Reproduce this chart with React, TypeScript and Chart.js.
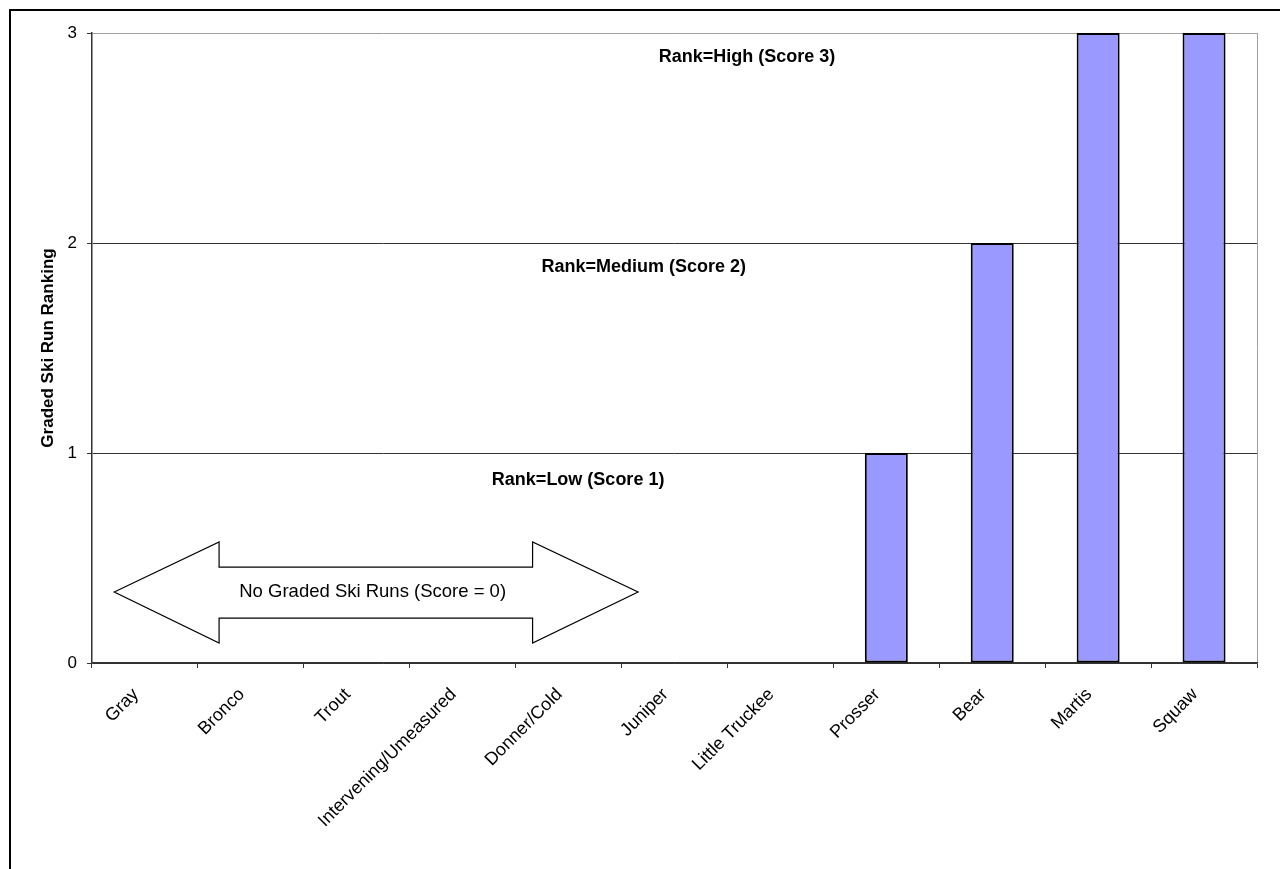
import React, { useEffect, useRef } from 'react';
import { Chart, registerables } from 'chart.js';

Chart.register(...registerables);

const categories = [
  'Gray', 'Bronco', 'Trout', 'Intervening/Umeasured', 'Donner/Cold', 'Juniper',
  'Little Truckee', 'Prosser', 'Bear', 'Martis', 'Squaw',
];
const scores = [0, 0, 0, 0, 0, 0, 0, 1, 2, 3, 3];
const yTicks = [0, 1, 2, 3];
const yAxisTitle = 'Graded Ski Run Ranking';
const rankLabels = ['Rank=Low (Score 1)', 'Rank=Medium (Score 2)', 'Rank=High (Score 3)'];
const noRunsLabel = 'No Graded Ski Runs (Score = 0)';

// annotation anchors, in axis units (category index, score)
const rankLabelAnchors = [
  { x: 4.09, y: 0.871 },
  { x: 4.71, y: 1.885 },
  { x: 5.685, y: 2.886 },
];
const arrowShape = {
  tipL: -0.29, headL: 0.7, headR: 3.66, tipR: 4.656,
  mid: 0.338, headTop: 0.576, headBot: 0.095, shaftTop: 0.457, shaftBot: 0.214,
  textX: 2.15,
};

const FONT = "'Liberation Sans', Arial, sans-serif";

const pagePlugin = {
  id: 'pageFrame',
  beforeDraw(chart: any) {
    const { ctx, width, height } = chart;
    ctx.save();
    ctx.fillStyle = '#ffffff';
    ctx.fillRect(0, 0, width, height);
    ctx.strokeStyle = '#000000';
    ctx.lineWidth = 2;
    ctx.strokeRect(10, 10, width + 50, height + 50);
    ctx.restore();
  },
};

const annotationPlugin = {
  id: 'annotations',
  afterDatasetsDraw(chart: any) {
    const { ctx } = chart;
    const xs = chart.scales.x;
    const ys = chart.scales.y;
    const px = (v: number) => xs.getPixelForValue(v);
    const py = (v: number) => ys.getPixelForValue(v);
    ctx.save();
    // double arrow
    const a = arrowShape;
    ctx.beginPath();
    ctx.moveTo(px(a.tipL), py(a.mid));
    ctx.lineTo(px(a.headL), py(a.headTop));
    ctx.lineTo(px(a.headL), py(a.shaftTop));
    ctx.lineTo(px(a.headR), py(a.shaftTop));
    ctx.lineTo(px(a.headR), py(a.headTop));
    ctx.lineTo(px(a.tipR), py(a.mid));
    ctx.lineTo(px(a.headR), py(a.headBot));
    ctx.lineTo(px(a.headR), py(a.shaftBot));
    ctx.lineTo(px(a.headL), py(a.shaftBot));
    ctx.lineTo(px(a.headL), py(a.headBot));
    ctx.closePath();
    ctx.fillStyle = '#ffffff';
    ctx.fill();
    ctx.strokeStyle = '#000000';
    ctx.lineWidth = 1.2;
    ctx.stroke();
    ctx.fillStyle = '#000000';
    ctx.textAlign = 'center';
    ctx.textBaseline = 'middle';
    ctx.font = `18.5px ${FONT}`;
    ctx.fillText(noRunsLabel, px(a.textX), py(a.mid));
    // rank labels
    ctx.font = `bold 18px ${FONT}`;
    rankLabels.forEach((t, i) => {
      ctx.fillText(t, px(rankLabelAnchors[i].x), py(rankLabelAnchors[i].y));
    });
    ctx.restore();
  },
};

export default function App() {
  const ref = useRef<HTMLCanvasElement | null>(null);
  useEffect(() => {
    if (!ref.current) return;
    const chart = new Chart(ref.current, {
      type: 'bar',
      data: {
        labels: categories,
        datasets: [
          {
            data: scores,
            backgroundColor: '#9999ff',
            borderColor: '#000000',
            borderWidth: 2,
            borderSkipped: false,
            barPercentage: 0.406,
            categoryPercentage: 1,
          },
        ],
      },
      options: {
        animation: false,
        responsive: false,
        maintainAspectRatio: false,
        events: [],
        layout: { padding: { left: 0, top: 33, right: 23, bottom: 0 } },
        plugins: {
          legend: { display: false },
          tooltip: { enabled: false },
          title: { display: false },
        },
        scales: {
          x: {
            offset: true,
            afterFit: (s: any) => { s.height = 206; },
            grid: {
              offset: true,
              drawOnChartArea: true,
              drawTicks: true,
              tickLength: 5,
              tickColor: '#333333',
              color: (c: any) => (c.type === 'scale' ? '#a0a0a0' : 'rgba(0,0,0,0)'),
              lineWidth: 1,
            },
            border: { display: true, color: '#333333', width: 1.5 },
            ticks: {
              autoSkip: false,
              maxRotation: 45,
              minRotation: 45,
              padding: 16,
              labelOffset: -9,
              color: '#000000',
              font: { family: FONT, size: 18 },
            },
          },
          y: {
            min: 0,
            max: 3,
            afterFit: (s: any) => { s.width = 92; },
            afterBuildTicks: (s: any) => { s.ticks = yTicks.map((v) => ({ value: v })); },
            grid: {
              drawTicks: true,
              tickLength: 5,
              tickColor: '#333333',
              color: (c: any) => (c.tick && c.tick.value === 3 ? '#a0a0a0' : '#333333'),
              lineWidth: 1,
            },
            border: { display: true, color: '#333333', width: 1.5 },
            ticks: {
              padding: 10,
              color: '#000000',
              font: { family: FONT, size: 17 },
            },
            title: {
              display: true,
              text: yAxisTitle,
              color: '#000000',
              font: { family: FONT, size: 17, weight: 'bold' },
              padding: { top: 38, bottom: 0 },
            },
          },
        },
      } as any,
      plugins: [pagePlugin, annotationPlugin],
    });
    return () => chart.destroy();
  }, []);
  return (
    <canvas
      ref={ref}
      width={1280}
      height={869}
      style={{ position: 'fixed', left: 0, top: 0, width: 1280, height: 869, display: 'block' }}
    />
  );
}
